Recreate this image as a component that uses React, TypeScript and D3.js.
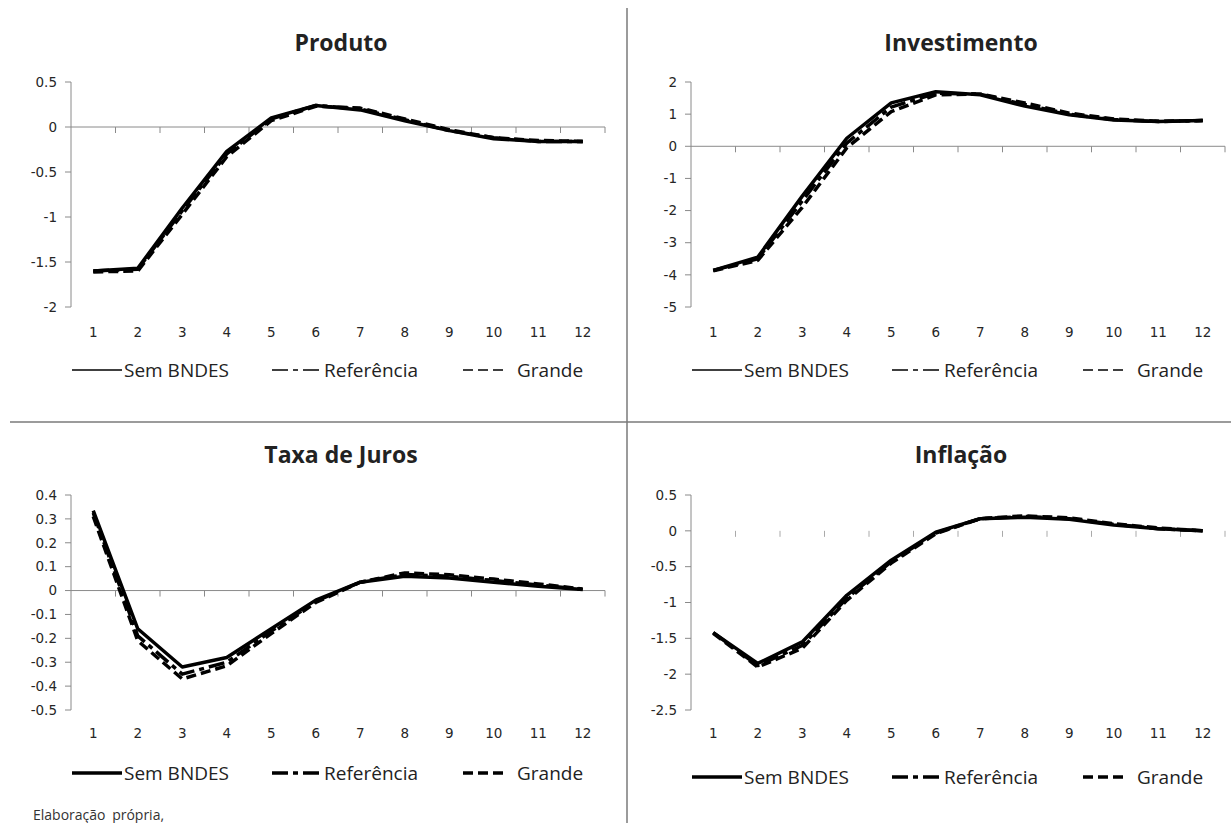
import { useEffect, useRef } from 'react'
import * as d3 from 'd3'

const periods = [1, 2, 3, 4, 5, 6, 7, 8, 9, 10, 11, 12]
const seriesNames = ['Sem BNDES', 'Referência', 'Grande']

const produtoSem = [-1.6, -1.57, -0.9, -0.27, 0.1, 0.24, 0.19, 0.07, -0.04, -0.13, -0.16, -0.16]
const produtoRef = [-1.6, -1.58, -0.93, -0.3, 0.09, 0.24, 0.2, 0.08, -0.04, -0.12, -0.16, -0.16]
const produtoGrande = [-1.61, -1.6, -0.97, -0.33, 0.07, 0.23, 0.21, 0.09, -0.03, -0.12, -0.15, -0.16]

const investSem = [-3.86, -3.45, -1.55, 0.25, 1.35, 1.7, 1.6, 1.25, 0.98, 0.82, 0.77, 0.8]
const investRef = [-3.86, -3.5, -1.7, 0.1, 1.22, 1.65, 1.62, 1.3, 1.0, 0.83, 0.77, 0.8]
const investGrande = [-3.87, -3.55, -1.9, -0.05, 1.08, 1.6, 1.63, 1.35, 1.03, 0.85, 0.78, 0.8]

const jurosSem = [0.335, -0.16, -0.32, -0.28, -0.16, -0.04, 0.035, 0.06, 0.053, 0.035, 0.018, 0.004]
const jurosRef = [0.325, -0.19, -0.35, -0.3, -0.17, -0.045, 0.035, 0.067, 0.06, 0.042, 0.023, 0.005]
const jurosGrande = [0.31, -0.21, -0.37, -0.315, -0.18, -0.05, 0.035, 0.074, 0.066, 0.048, 0.028, 0.006]

const inflSem = [-1.42, -1.85, -1.55, -0.9, -0.41, -0.02, 0.17, 0.19, 0.16, 0.08, 0.03, 0.0]
const inflRef = [-1.42, -1.88, -1.6, -0.94, -0.43, -0.03, 0.17, 0.2, 0.17, 0.09, 0.03, 0.0]
const inflGrande = [-1.43, -1.9, -1.64, -0.97, -0.45, -0.04, 0.17, 0.21, 0.18, 0.1, 0.04, 0.0]

const produtoTicks = [0.5, 0, -0.5, -1, -1.5, -2]
const investTicks = [2, 1, 0, -1, -2, -3, -4, -5]
const jurosTicks = [0.4, 0.3, 0.2, 0.1, 0, -0.1, -0.2, -0.3, -0.4, -0.5]
const inflTicks = [0.5, 0, -0.5, -1, -1.5, -2, -2.5]

const dashes = ['none', '16,5,5,5', '10,5']

interface Panel {
  title: string
  series: number[][]
  ticks: number[]
  left: number
  top: number
  bottom: number
  titleY: number
  labelY: number
  legendY: number
  legendStroke: number
  zeroLine: boolean
}

const panels: Panel[] = [
  { title: 'Produto', series: [produtoSem, produtoRef, produtoGrande], ticks: produtoTicks,
    left: 71, top: 82, bottom: 307, titleY: 51, labelY: 332, legendY: 370, legendStroke: 1.5, zeroLine: true },
  { title: 'Investimento', series: [investSem, investRef, investGrande], ticks: investTicks,
    left: 691, top: 82, bottom: 307, titleY: 51, labelY: 332, legendY: 370, legendStroke: 1.5, zeroLine: true },
  { title: 'Taxa de Juros', series: [jurosSem, jurosRef, jurosGrande], ticks: jurosTicks,
    left: 71, top: 495, bottom: 710, titleY: 463, labelY: 733, legendY: 773, legendStroke: 3.5, zeroLine: true },
  { title: 'Inflação', series: [inflSem, inflRef, inflGrande], ticks: inflTicks,
    left: 691, top: 495, bottom: 710, titleY: 463, labelY: 733, legendY: 777, legendStroke: 3.5, zeroLine: false },
]

const W = 1231
const H = 823
const PLOT_W = 534
const AXIS = '#8a8a8a'
const TEXT = '#262626'

export default function App() {
  const svgRef = useRef<SVGSVGElement>(null)

  useEffect(() => {
    if (!svgRef.current) return
    const svg = d3.select(svgRef.current)
    svg.selectAll('*').remove()

    svg.append('rect').attr('width', W).attr('height', H).style('fill', '#fff')

    // panel dividers
    svg.append('line')
      .attr('x1', 627).attr('x2', 627).attr('y1', 8).attr('y2', H)
      .style('stroke', '#7a7a7a').style('stroke-width', 1.5)
    svg.append('line')
      .attr('x1', 10).attr('x2', W).attr('y1', 422).attr('y2', 422)
      .style('stroke', '#7a7a7a').style('stroke-width', 1.5)

    panels.forEach(p => {
      const g = svg.append('g')
      const x = d3.scaleBand<number>().domain(periods).range([p.left, p.left + PLOT_W]).paddingInner(0)
      const ext = d3.extent(p.ticks) as [number, number]
      const y = d3.scaleLinear().domain(ext).range([p.bottom, p.top])
      const cx = (d: number) => (x(d) as number) + x.bandwidth() / 2

      // title
      g.append('text')
        .attr('x', p.left + PLOT_W / 2 + 3)
        .attr('y', p.titleY)
        .style('text-anchor', 'middle')
        .style('font-family', '"Open Sans", sans-serif')
        .style('font-weight', '700')
        .style('font-size', '23px')
        .style('fill', '#222')
        .text(p.title)

      // y axis
      g.append('line')
        .attr('x1', p.left).attr('x2', p.left)
        .attr('y1', y(ext[1])).attr('y2', y(ext[0]))
        .style('stroke', AXIS).style('stroke-width', 1)
      p.ticks.forEach(t => {
        g.append('line')
          .attr('x1', p.left - 6).attr('x2', p.left)
          .attr('y1', y(t)).attr('y2', y(t))
          .style('stroke', AXIS)
        g.append('text')
          .attr('x', p.left - 14)
          .attr('y', y(t))
          .attr('dy', '0.35em')
          .style('text-anchor', 'end')
          .style('font-family', '"DejaVu Sans", Verdana, sans-serif')
          .style('font-size', '13.5px')
          .style('fill', TEXT)
          .text(String(Math.round(t * 10) / 10))
      })

      // category axis at zero
      const y0 = y(0)
      if (p.zeroLine) {
        g.append('line')
          .attr('x1', p.left).attr('x2', p.left + PLOT_W)
          .attr('y1', y0).attr('y2', y0)
          .style('stroke', AXIS).style('stroke-width', 1)
      }
      periods.forEach(d => {
        const bx = (x(d) as number) + x.bandwidth()
        g.append('line')
          .attr('x1', bx).attr('x2', bx)
          .attr('y1', y0).attr('y2', y0 + 6)
          .style('stroke', p.zeroLine ? AXIS : '#aaa')
        g.append('text')
          .attr('x', cx(d))
          .attr('y', p.labelY)
          .attr('dy', '0.35em')
          .style('text-anchor', 'middle')
          .style('font-family', '"DejaVu Sans", Verdana, sans-serif')
          .style('font-size', '13.5px')
          .style('fill', TEXT)
          .text(String(d))
      })

      // series lines, Grande first so the solid one sits on top
      const line = d3.line<number>()
        .x((_, i) => cx(periods[i]))
        .y(v => y(v))
      ;[2, 1, 0].forEach(si => {
        g.append('path')
          .datum(p.series[si])
          .attr('d', line)
          .style('fill', 'none')
          .style('stroke', '#000')
          .style('stroke-width', 3.5)
          .style('stroke-dasharray', dashes[si])
          .style('stroke-linejoin', 'round')
      })

      // legend
      const off = p.left - 71
      const items = [
        { x1: 72, x2: 122, tx: 124 },
        { x1: 272, x2: 322, tx: 324 },
        { x1: 463, x2: 503, tx: 517 },
      ]
      items.forEach((it, i) => {
        g.append('line')
          .attr('x1', it.x1 + off).attr('x2', it.x2 + off)
          .attr('y1', p.legendY).attr('y2', p.legendY)
          .style('stroke', '#000')
          .style('stroke-width', p.legendStroke)
          .style('stroke-dasharray', dashes[i])
        g.append('text')
          .attr('x', it.tx + off)
          .attr('y', p.legendY)
          .attr('dy', '0.35em')
          .style('font-family', '"Open Sans", sans-serif')
          .style('font-size', '19px')
          .style('fill', '#222')
          .text(seriesNames[i])
      })
    })

    svg.append('text')
      .attr('x', 33)
      .attr('y', 815)
      .attr('dy', '0.35em')
      .style('font-family', '"Open Sans", sans-serif')
      .style('font-size', '14px')
      .style('word-spacing', '3px')
      .style('fill', '#333')
      .text('Elaboração própria,')
  }, [])

  return (
    <div style={{ position: 'absolute', left: 0, top: 0 }}>
      <svg ref={svgRef} width={W} height={H} style={{ display: 'block' }}></svg>
    </div>
  )
}
